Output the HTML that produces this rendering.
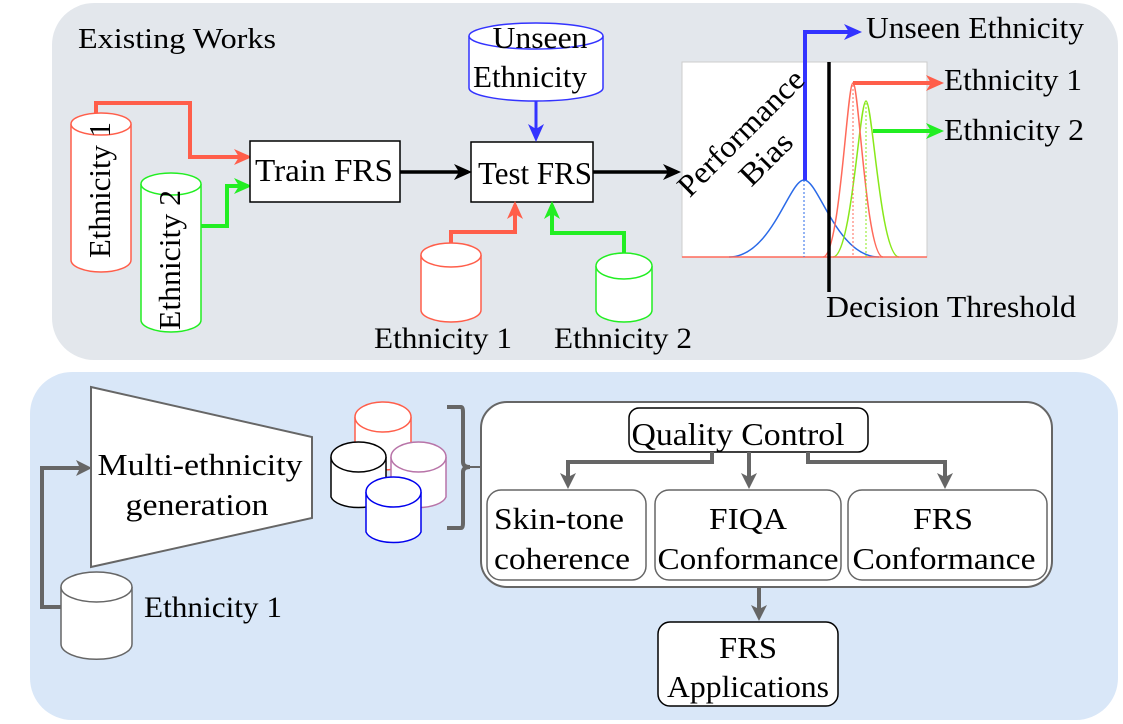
<!DOCTYPE html>
<html><head><meta charset="utf-8"><style>
html,body{margin:0;padding:0;background:#fff;}
svg{display:block;}
text{font-family:"Liberation Serif",serif;fill:#000;}
</style></head><body>
<svg width="1123" height="724" viewBox="0 0 1123 724" xmlns="http://www.w3.org/2000/svg">
<defs>
<marker id="ar" markerWidth="18" markerHeight="16" refX="14" refY="8" orient="auto" markerUnits="userSpaceOnUse"><path d="M0,0 L18,8 L0,16 L5,8 z" fill="#ff5e4a"/></marker>
<marker id="ag" markerWidth="18" markerHeight="16" refX="14" refY="8" orient="auto" markerUnits="userSpaceOnUse"><path d="M0,0 L18,8 L0,16 L5,8 z" fill="#22ee22"/></marker>
<marker id="ab" markerWidth="18" markerHeight="16" refX="14" refY="8" orient="auto" markerUnits="userSpaceOnUse"><path d="M0,0 L18,8 L0,16 L5,8 z" fill="#3333ff"/></marker>
<marker id="ak" markerWidth="18" markerHeight="16" refX="14" refY="8" orient="auto" markerUnits="userSpaceOnUse"><path d="M0,0 L18,8 L0,16 L5,8 z" fill="#000"/></marker>
<marker id="ay" markerWidth="16" markerHeight="16" refX="12" refY="8" orient="auto" markerUnits="userSpaceOnUse"><path d="M0,0 L16,8 L0,16 L4,8 z" fill="#666"/></marker>
</defs>

<rect x="52" y="3" width="1066" height="357" rx="42" fill="#e3e7ec"/>
<rect x="30" y="372" width="1088" height="348" rx="42" fill="#d9e7f8"/>

<text x="78" y="48" font-size="29" textLength="198" lengthAdjust="spacingAndGlyphs">Existing Works</text>

<g stroke="#ff5e4a" stroke-width="1.5" fill="#fff">
<path d="M71,124 L71,260 A30,12 0 0 0 131,260 L131,124"/>
<ellipse cx="101" cy="124" rx="30" ry="11"/>
</g>
<text font-size="31" transform="translate(110,190) rotate(-90)" text-anchor="middle" textLength="136" lengthAdjust="spacingAndGlyphs">Ethnicity 1</text>
<g stroke="#22ee22" stroke-width="1.5" fill="#fff">
<path d="M141,184 L141,320 A30,12 0 0 0 201,320 L201,184"/>
<ellipse cx="171" cy="184" rx="30" ry="11"/>
</g>
<text font-size="31" transform="translate(180,260) rotate(-90)" text-anchor="middle" textLength="140" lengthAdjust="spacingAndGlyphs">Ethnicity 2</text>

<path d="M96,113 L96,103 L190,103 L190,157 L248,157" fill="none" stroke="#ff5e4a" stroke-width="4" marker-end="url(#ar)"/>
<path d="M201,226 L227,226 L227,186 L248,186" fill="none" stroke="#22ee22" stroke-width="4" marker-end="url(#ag)"/>

<rect x="250" y="141" width="150" height="61" fill="#fff" stroke="#000" stroke-width="1.5"/>
<text x="324" y="181" font-size="32" text-anchor="middle" textLength="138" lengthAdjust="spacingAndGlyphs">Train FRS</text>
<rect x="471" y="142" width="122" height="60" fill="#fff" stroke="#000" stroke-width="1.5"/>
<text x="535" y="184" font-size="32" text-anchor="middle" textLength="114" lengthAdjust="spacingAndGlyphs">Test FRS</text>
<path d="M400,172 L468,172" stroke="#000" stroke-width="3.5" marker-end="url(#ak)"/>
<path d="M593,172 L677,172" stroke="#000" stroke-width="3.5" marker-end="url(#ak)"/>

<g stroke="#3333ff" stroke-width="1.5" fill="#fff">
<path d="M469,36 L469,88 A67,13 0 0 0 603,88 L603,36"/>
<ellipse cx="536" cy="36" rx="67" ry="13"/>
</g>
<text x="540" y="48" font-size="31" text-anchor="middle" textLength="95" lengthAdjust="spacingAndGlyphs">Unseen</text>
<text x="530" y="87" font-size="31" text-anchor="middle" textLength="114" lengthAdjust="spacingAndGlyphs">Ethnicity</text>
<path d="M536,101 L536,138" stroke="#3333ff" stroke-width="3" marker-end="url(#ab)"/>

<g stroke="#ff5e4a" stroke-width="1.5" fill="#fff">
<path d="M421,255 L421,310 A30,12 0 0 0 481,310 L481,255"/>
<ellipse cx="451" cy="255" rx="30" ry="12"/>
</g>
<g stroke="#22ee22" stroke-width="1.5" fill="#fff">
<path d="M596,266 L596,310 A28,12 0 0 0 652,310 L652,266"/>
<ellipse cx="624" cy="266" rx="28" ry="13"/>
</g>
<path d="M451,243 L451,232 L515,232 L515,205" fill="none" stroke="#ff5e4a" stroke-width="4" marker-end="url(#ar)"/>
<path d="M624,253 L624,233 L552,233 L552,205" fill="none" stroke="#22ee22" stroke-width="4" marker-end="url(#ag)"/>
<text x="374" y="348" font-size="30" textLength="138" lengthAdjust="spacingAndGlyphs">Ethnicity 1</text>
<text x="554" y="348" font-size="30" textLength="138" lengthAdjust="spacingAndGlyphs">Ethnicity 2</text>

<rect x="682" y="62" width="245" height="195" fill="#fff" stroke="#ccc" stroke-width="1"/>
<path d="M729,257 C771.5,257 789,180 804,180 C819,180 836.5,257 879,257" fill="none" stroke="#2a6ae8" stroke-width="1.5"/>
<path d="M833,257 C851.7,257 859.4,101 866,101 C872.6,101 880.3,257 899,257" fill="none" stroke="#88e81a" stroke-width="1.5"/>
<path d="M823,257 C840,257 847,83 853,83 C859,83 866,257 883,257" fill="none" stroke="#ff6a5a" stroke-width="1.5"/>
<line x1="682" y1="257" x2="927" y2="257" stroke="#ff6a5a" stroke-width="1.5"/>
<line x1="804" y1="180" x2="804" y2="257" stroke="#2a6ae8" stroke-width="1" stroke-dasharray="2,2"/>
<line x1="853" y1="85" x2="853" y2="257" stroke="#ff6a5a" stroke-width="1" stroke-dasharray="2,2"/>
<line x1="866" y1="103" x2="866" y2="257" stroke="#88e81a" stroke-width="1" stroke-dasharray="2,2"/>
<line x1="829" y1="62" x2="829" y2="292" stroke="#000" stroke-width="3.5"/>
<path d="M805,180 L805,32 L858,32" fill="none" stroke="#3333ff" stroke-width="4" marker-end="url(#ab)"/>
<path d="M853,83 L940,83" stroke="#ff5e4a" stroke-width="4" marker-end="url(#ar)"/>
<path d="M873,131 L940,131" stroke="#22ee22" stroke-width="4" marker-end="url(#ag)"/>
<text x="866" y="38" font-size="31" textLength="218" lengthAdjust="spacingAndGlyphs">Unseen Ethnicity</text>
<text x="944" y="90" font-size="31" textLength="138" lengthAdjust="spacingAndGlyphs">Ethnicity 1</text>
<text x="944" y="140" font-size="31" textLength="140" lengthAdjust="spacingAndGlyphs">Ethnicity 2</text>
<text x="826" y="317" font-size="31" textLength="250" lengthAdjust="spacingAndGlyphs">Decision Threshold</text>
<text font-size="31" transform="translate(748,140) rotate(-45)" text-anchor="middle" textLength="165" lengthAdjust="spacingAndGlyphs">Performance</text>
<text font-size="31" transform="translate(773,166) rotate(-45)" text-anchor="middle" textLength="62" lengthAdjust="spacingAndGlyphs">Bias</text>

<path d="M91,387 L312,437 L312,518 L91,567 z" fill="#fff" stroke="#666" stroke-width="2"/>
<text x="200" y="475" font-size="31" text-anchor="middle" textLength="205" lengthAdjust="spacingAndGlyphs">Multi-ethnicity</text>
<text x="197" y="515" font-size="31" text-anchor="middle" textLength="143" lengthAdjust="spacingAndGlyphs">generation</text>
<path d="M62,607 L42,607 L42,468 L88,468" fill="none" stroke="#666" stroke-width="4" marker-end="url(#ay)"/>
<g stroke="#666" stroke-width="1.5" fill="#fff">
<path d="M61,587 L61,644 A35,15 0 0 0 132,644 L132,587"/>
<ellipse cx="96.5" cy="587" rx="35.5" ry="15"/>
</g>
<text x="144" y="617" font-size="30" textLength="138" lengthAdjust="spacingAndGlyphs">Ethnicity 1</text>

<g stroke-width="1.5" fill="#fff">
<g stroke="#ff5e4a"><path d="M355,417 L355,457 A28,13 0 0 0 411,457 L411,417"/><ellipse cx="383" cy="417" rx="28" ry="15"/></g>
<g stroke="#b874a8"><path d="M391,457 L391,497 A28,13 0 0 0 446,497 L446,457"/><ellipse cx="418.5" cy="457" rx="27.5" ry="15"/></g>
<g stroke="#000"><path d="M331,457 L331,497 A28,13 0 0 0 386,497 L386,457"/><ellipse cx="358.5" cy="457" rx="27.5" ry="15"/></g>
<g stroke="#0000ee"><path d="M366,492 L366,532 A28,13 0 0 0 421,532 L421,492"/><ellipse cx="393.5" cy="492" rx="27.5" ry="15"/></g>
</g>
<path d="M447,407 L461,407 Q463,407 463,412 L463,462 Q463,467 470,467 Q463,467 463,472 L463,523 Q463,528 461,528 L447,528" fill="none" stroke="#666" stroke-width="4"/>
<line x1="470" y1="467" x2="482" y2="467" stroke="#666" stroke-width="2"/>

<rect x="481" y="402" width="571" height="185" rx="26" fill="#fff" stroke="#666" stroke-width="2"/>
<rect x="629" y="408" width="239" height="44" rx="10" fill="#fff" stroke="#000" stroke-width="1.5"/>
<text x="738" y="445" font-size="32" text-anchor="middle" textLength="213" lengthAdjust="spacingAndGlyphs">Quality Control</text>
<path d="M712,452 L712,462 L568,462 L568,485" fill="none" stroke="#666" stroke-width="4" marker-end="url(#ay)"/>
<path d="M749,452 L749,485" stroke="#666" stroke-width="4" marker-end="url(#ay)"/>
<path d="M808,452 L808,462 L945,462 L945,485" fill="none" stroke="#666" stroke-width="4" marker-end="url(#ay)"/>
<g fill="#fff" stroke="#666" stroke-width="1.5">
<rect x="487" y="490" width="159" height="90" rx="14"/>
<rect x="655" y="490" width="186" height="90" rx="14"/>
<rect x="848" y="490" width="199" height="90" rx="14"/>
</g>
<text x="494" y="529" font-size="31" textLength="130" lengthAdjust="spacingAndGlyphs">Skin-tone</text>
<text x="494" y="569" font-size="31" textLength="136" lengthAdjust="spacingAndGlyphs">coherence</text>
<text x="748" y="529" font-size="31" text-anchor="middle" textLength="78" lengthAdjust="spacingAndGlyphs">FIQA</text>
<text x="748" y="569" font-size="31" text-anchor="middle" textLength="181" lengthAdjust="spacingAndGlyphs">Conformance</text>
<text x="943" y="529" font-size="31" text-anchor="middle" textLength="60" lengthAdjust="spacingAndGlyphs">FRS</text>
<text x="944" y="569" font-size="31" text-anchor="middle" textLength="183" lengthAdjust="spacingAndGlyphs">Conformance</text>
<path d="M759,587 L759,617" stroke="#666" stroke-width="4" marker-end="url(#ay)"/>
<rect x="658" y="622" width="180" height="84" rx="12" fill="#fff" stroke="#000" stroke-width="1.5"/>
<text x="748" y="658" font-size="31" text-anchor="middle" textLength="58" lengthAdjust="spacingAndGlyphs">FRS</text>
<text x="748" y="697" font-size="31" text-anchor="middle" textLength="162" lengthAdjust="spacingAndGlyphs">Applications</text>
</svg>
</body></html>
